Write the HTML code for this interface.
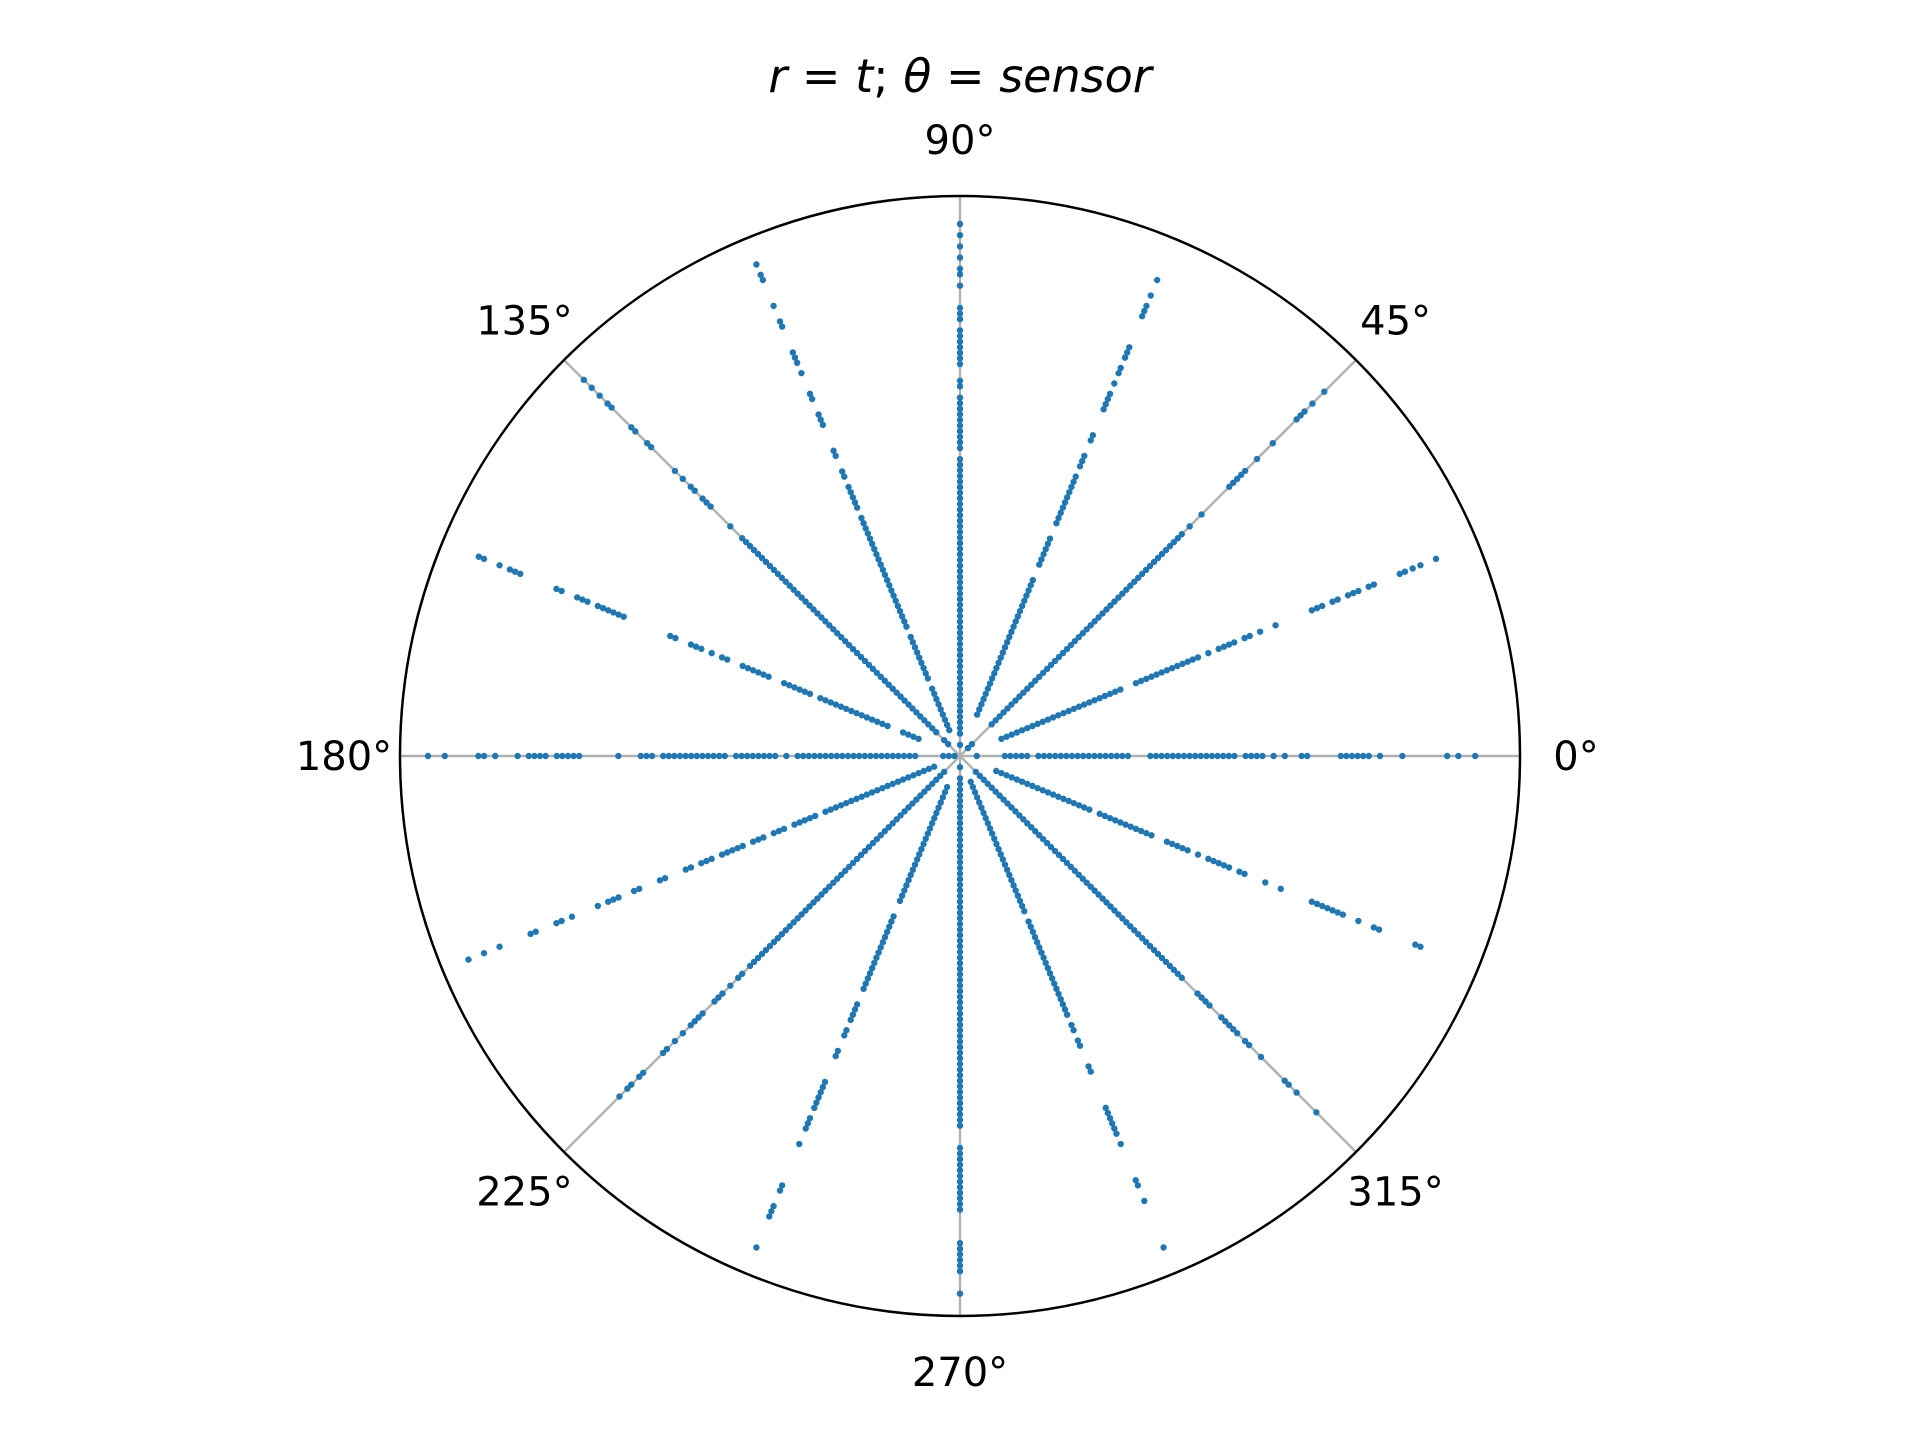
<!DOCTYPE html>
<html>
<head>
<meta charset="utf-8">
<style>
  html,body{margin:0;padding:0;background:#fff;}
  svg{display:block;}
  text{font-family:"DejaVu Sans","Liberation Sans",sans-serif;fill:#000;}
</style>
</head>
<body>
<svg id="chart" width="1920" height="1440" viewBox="0 0 1920 1440" xmlns="http://www.w3.org/2000/svg">
  <rect x="0" y="0" width="1920" height="1440" fill="#ffffff"/>
  <text x="960" y="92" font-size="46" text-anchor="middle"><tspan font-style="italic">r</tspan> = <tspan font-style="italic">t</tspan>; <tspan font-style="italic">θ</tspan> = <tspan font-style="italic">sensor</tspan></text>
  <g id="grid"></g>
  <g id="points"></g>
  <circle cx="960" cy="756" r="560" fill="none" stroke="#000" stroke-width="2.5"/>
  <g id="labels"></g>
</svg>
<script>
const tickAngles = [0, 45, 90, 135, 180, 225, 270, 315];
const tickLabels = ["0°", "45°", "90°", "135°", "180°", "225°", "270°", "315°"];
const sensorAngles = [0, 22.5, 45, 67.5, 90, 112.5, 135, 157.5, 180, 202.5, 225, 247.5, 270, 292.5, 315, 337.5];
const r0 = [0.03,0.08,0.09,0.10,0.11,0.12,0.14,0.15,0.16,0.17,0.18,0.19,0.20,0.21,0.22,0.23,0.24,0.25,0.26,0.27,0.28,0.29,0.30,0.34,0.35,0.36,0.37,0.38,0.39,0.40,0.41,0.42,0.43,0.44,0.45,0.46,0.47,0.48,0.49,0.51,0.52,0.53,0.54,0.56,0.58,0.61,0.62,0.68,0.69,0.70,0.71,0.72,0.73,0.75,0.79,0.87,0.89,0.92];
const r22 = [0.08,0.09,0.10,0.11,0.12,0.13,0.14,0.15,0.16,0.17,0.18,0.19,0.20,0.21,0.22,0.23,0.24,0.25,0.26,0.27,0.28,0.29,0.30,0.31,0.34,0.35,0.36,0.37,0.38,0.39,0.40,0.41,0.42,0.43,0.44,0.45,0.46,0.48,0.50,0.51,0.52,0.53,0.55,0.56,0.58,0.61,0.68,0.69,0.70,0.72,0.73,0.75,0.76,0.77,0.79,0.80,0.85,0.86,0.875,0.89,0.92];
const r45 = [0.02,0.03,0.08,0.09,0.10,0.11,0.12,0.13,0.14,0.15,0.16,0.17,0.18,0.19,0.20,0.21,0.22,0.23,0.24,0.25,0.26,0.27,0.28,0.29,0.30,0.31,0.32,0.33,0.34,0.35,0.36,0.37,0.38,0.39,0.40,0.41,0.42,0.43,0.44,0.45,0.46,0.47,0.48,0.49,0.50,0.51,0.52,0.53,0.54,0.55,0.56,0.58,0.61,0.68,0.69,0.70,0.71,0.72,0.75,0.79,0.85,0.86,0.87,0.89,0.92];
const r67 = [0.08,0.09,0.10,0.11,0.12,0.13,0.14,0.15,0.16,0.17,0.18,0.19,0.20,0.21,0.22,0.23,0.24,0.25,0.26,0.27,0.28,0.29,0.30,0.31,0.32,0.33,0.34,0.37,0.38,0.39,0.40,0.41,0.42,0.45,0.46,0.47,0.48,0.49,0.50,0.51,0.52,0.53,0.54,0.56,0.57,0.58,0.61,0.62,0.67,0.68,0.69,0.70,0.72,0.74,0.75,0.77,0.78,0.79,0.85,0.86,0.87,0.89,0.92];
const r90 = [0.02,0.04,0.05,0.06,0.07,0.08,0.09,0.10,0.11,0.12,0.13,0.14,0.15,0.16,0.17,0.18,0.19,0.20,0.21,0.22,0.23,0.24,0.25,0.26,0.27,0.28,0.29,0.30,0.31,0.32,0.33,0.34,0.35,0.36,0.37,0.38,0.39,0.40,0.41,0.42,0.43,0.44,0.45,0.46,0.47,0.48,0.49,0.50,0.51,0.52,0.53,0.55,0.56,0.57,0.58,0.59,0.60,0.61,0.62,0.63,0.64,0.66,0.67,0.70,0.71,0.72,0.73,0.74,0.75,0.76,0.78,0.79,0.80,0.84,0.86,0.87,0.89,0.91,0.93,0.95];
const r112 = [0.05,0.06,0.07,0.08,0.09,0.10,0.11,0.12,0.13,0.15,0.16,0.17,0.18,0.19,0.20,0.21,0.22,0.23,0.25,0.26,0.27,0.28,0.29,0.30,0.31,0.32,0.33,0.34,0.35,0.36,0.37,0.38,0.39,0.40,0.41,0.42,0.43,0.44,0.45,0.46,0.48,0.49,0.50,0.51,0.52,0.54,0.55,0.58,0.59,0.64,0.65,0.66,0.69,0.70,0.74,0.76,0.77,0.78,0.83,0.84,0.87,0.92,0.93,0.95];
const r135 = [0.03,0.04,0.06,0.07,0.08,0.09,0.10,0.11,0.12,0.13,0.14,0.15,0.16,0.17,0.18,0.19,0.20,0.21,0.22,0.23,0.24,0.25,0.26,0.27,0.28,0.29,0.30,0.31,0.32,0.33,0.34,0.35,0.36,0.37,0.38,0.39,0.40,0.41,0.42,0.43,0.44,0.45,0.46,0.47,0.48,0.49,0.50,0.51,0.52,0.53,0.54,0.55,0.58,0.63,0.64,0.65,0.67,0.68,0.70,0.72,0.78,0.79,0.82,0.83,0.88,0.89,0.91,0.93,0.95];
const r157 = [0.08,0.09,0.10,0.11,0.14,0.15,0.16,0.17,0.18,0.19,0.20,0.21,0.22,0.23,0.24,0.25,0.26,0.27,0.29,0.30,0.31,0.32,0.33,0.34,0.37,0.38,0.39,0.40,0.41,0.42,0.45,0.46,0.48,0.50,0.51,0.52,0.55,0.56,0.65,0.66,0.67,0.68,0.69,0.70,0.72,0.73,0.74,0.77,0.78,0.85,0.86,0.87,0.89,0.92,0.93];
const r180 = [0.01,0.02,0.03,0.08,0.09,0.10,0.11,0.12,0.13,0.14,0.15,0.16,0.17,0.18,0.19,0.20,0.21,0.22,0.23,0.24,0.25,0.26,0.27,0.28,0.29,0.31,0.33,0.34,0.35,0.36,0.37,0.38,0.39,0.40,0.42,0.43,0.44,0.45,0.46,0.47,0.48,0.49,0.50,0.51,0.52,0.53,0.55,0.56,0.57,0.61,0.68,0.69,0.70,0.71,0.72,0.74,0.75,0.76,0.77,0.79,0.83,0.85,0.86,0.92,0.95];
const r202 = [0.05,0.06,0.07,0.08,0.09,0.10,0.11,0.12,0.13,0.14,0.15,0.16,0.17,0.18,0.19,0.20,0.21,0.22,0.23,0.24,0.25,0.26,0.28,0.29,0.30,0.31,0.32,0.34,0.35,0.36,0.38,0.39,0.40,0.42,0.43,0.44,0.45,0.46,0.48,0.49,0.50,0.52,0.53,0.57,0.58,0.62,0.63,0.66,0.67,0.68,0.70,0.75,0.77,0.78,0.82,0.83,0.89,0.92,0.95];
const r225 = [0.04,0.05,0.06,0.07,0.08,0.09,0.10,0.11,0.12,0.13,0.14,0.15,0.16,0.17,0.18,0.19,0.20,0.21,0.22,0.23,0.24,0.25,0.26,0.27,0.28,0.29,0.30,0.31,0.32,0.33,0.34,0.35,0.36,0.37,0.38,0.39,0.40,0.41,0.42,0.43,0.44,0.45,0.46,0.47,0.48,0.49,0.50,0.51,0.52,0.53,0.55,0.56,0.58,0.60,0.61,0.62,0.65,0.66,0.67,0.68,0.70,0.72,0.74,0.75,0.80,0.81,0.83,0.84,0.86];
const r247 = [0.06,0.07,0.08,0.09,0.10,0.11,0.12,0.13,0.14,0.15,0.16,0.17,0.18,0.19,0.20,0.21,0.22,0.23,0.24,0.25,0.26,0.27,0.28,0.31,0.32,0.33,0.34,0.35,0.36,0.37,0.38,0.39,0.40,0.41,0.42,0.43,0.44,0.45,0.48,0.49,0.50,0.51,0.53,0.54,0.57,0.58,0.63,0.64,0.65,0.66,0.67,0.68,0.70,0.71,0.72,0.75,0.83,0.84,0.87,0.88,0.89,0.95];
const r270 = [0.02,0.04,0.05,0.06,0.07,0.08,0.09,0.10,0.11,0.12,0.13,0.14,0.15,0.16,0.17,0.18,0.19,0.20,0.21,0.22,0.23,0.24,0.25,0.26,0.27,0.28,0.29,0.30,0.31,0.32,0.33,0.34,0.35,0.36,0.37,0.38,0.39,0.40,0.41,0.42,0.43,0.44,0.45,0.46,0.47,0.48,0.49,0.50,0.51,0.52,0.53,0.54,0.55,0.56,0.57,0.58,0.59,0.60,0.61,0.62,0.63,0.64,0.65,0.66,0.70,0.71,0.72,0.73,0.74,0.75,0.76,0.77,0.78,0.79,0.80,0.81,0.87,0.88,0.89,0.90,0.91,0.92,0.96];
const r292 = [0.05,0.06,0.07,0.08,0.09,0.10,0.11,0.12,0.13,0.14,0.15,0.16,0.17,0.18,0.19,0.20,0.21,0.22,0.23,0.24,0.25,0.26,0.27,0.28,0.29,0.30,0.32,0.33,0.34,0.35,0.36,0.37,0.38,0.39,0.40,0.41,0.42,0.43,0.44,0.45,0.46,0.47,0.48,0.49,0.50,0.52,0.53,0.55,0.56,0.60,0.61,0.68,0.69,0.70,0.71,0.72,0.73,0.75,0.82,0.83,0.86,0.95];
const r315 = [0.04,0.05,0.06,0.07,0.08,0.09,0.10,0.11,0.12,0.13,0.14,0.15,0.16,0.17,0.18,0.19,0.20,0.21,0.22,0.23,0.24,0.25,0.26,0.27,0.28,0.29,0.30,0.31,0.32,0.33,0.34,0.35,0.36,0.37,0.38,0.39,0.40,0.41,0.42,0.43,0.44,0.45,0.46,0.47,0.48,0.49,0.50,0.51,0.52,0.53,0.54,0.55,0.56,0.60,0.61,0.62,0.63,0.66,0.67,0.68,0.69,0.70,0.72,0.73,0.76,0.82,0.83,0.85,0.90];
const r337 = [0.07,0.08,0.09,0.10,0.11,0.12,0.13,0.14,0.15,0.16,0.17,0.18,0.19,0.20,0.21,0.22,0.23,0.24,0.25,0.27,0.28,0.29,0.30,0.31,0.32,0.33,0.34,0.35,0.36,0.37,0.40,0.41,0.42,0.43,0.44,0.46,0.48,0.49,0.50,0.51,0.52,0.54,0.55,0.59,0.62,0.68,0.69,0.70,0.71,0.72,0.73,0.74,0.77,0.80,0.81,0.88,0.89];
const sensorRadii = [r0,r22,r45,r67,r90,r112,r135,r157,r180,r202,r225,r247,r270,r292,r315,r337];

const CX = 960, CY = 756, R = 560, RMAX = 1.0;
const NS = "http://www.w3.org/2000/svg";
function px(thetaDeg, r) { const a = thetaDeg * Math.PI / 180; return CX + (r / RMAX) * R * Math.cos(a); }
function py(thetaDeg, r) { const a = thetaDeg * Math.PI / 180; return CY - (r / RMAX) * R * Math.sin(a); }

const grid = document.getElementById('grid');
tickAngles.forEach(function (t) {
  const ln = document.createElementNS(NS, 'line');
  ln.setAttribute('x1', CX); ln.setAttribute('y1', CY);
  ln.setAttribute('x2', px(t, RMAX)); ln.setAttribute('y2', py(t, RMAX));
  ln.setAttribute('stroke', '#b0b0b0'); ln.setAttribute('stroke-width', '2.4');
  
  
  grid.appendChild(ln);
});

const pts = document.getElementById('points');
sensorAngles.forEach(function (theta, i) {
  const g = document.createElementNS(NS, 'g');
  
  
  sensorRadii[i].forEach(function (r) {
    const c = document.createElementNS(NS, 'circle');
    c.setAttribute('cx', px(theta, r).toFixed(2));
    c.setAttribute('cy', py(theta, r).toFixed(2));
    c.setAttribute('r', '3.2');
    c.setAttribute('fill', '#1f77b4');
    
    
    g.appendChild(c);
  });
  pts.appendChild(g);
});

const labels = document.getElementById('labels');
tickAngles.forEach(function (t, i) {
  const tx = document.createElementNS(NS, 'text');
  tx.setAttribute('x', px(t, 1.1 * RMAX).toFixed(1));
  tx.setAttribute('y', (py(t, 1.1 * RMAX) + 14).toFixed(1));
  tx.setAttribute('font-size', '40');
  tx.setAttribute('text-anchor', 'middle');
  tx.textContent = tickLabels[i];
  
  
  labels.appendChild(tx);
});
</script>
</body>
</html>
